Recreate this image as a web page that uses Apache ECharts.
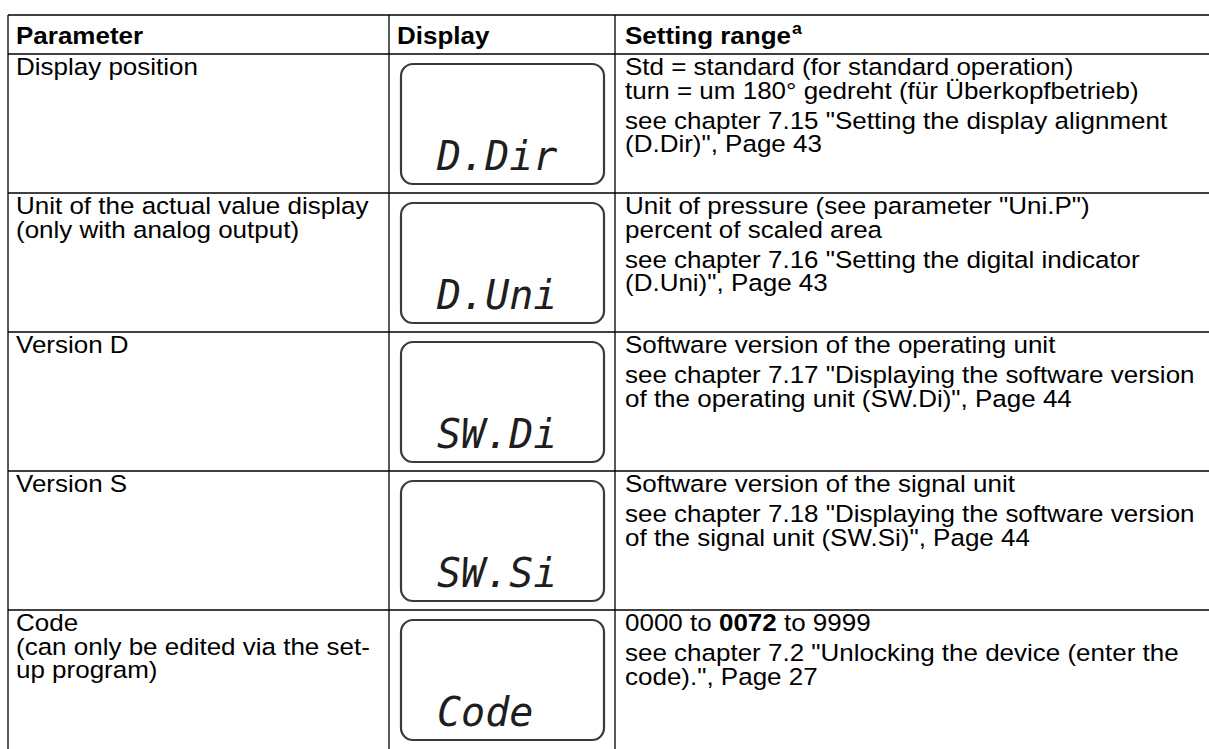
<!DOCTYPE html>
<html>
<head>
<meta charset="utf-8">
<script src="https://cdn.jsdelivr.net/npm/echarts@6/dist/echarts.min.js"></script>
<style>html,body{margin:0;padding:0;background:#fff}#c{width:1209px;height:749px}</style>
</head>
<body>
<div id="c"></div>
<script>
// ---------------- data ----------------
const headers = ['Parameter', 'Display', 'Setting range'];
const headerSup = 'a';

const parameters = [
  ['Display position'],
  ['Unit of the actual value display', '(only with analog output)'],
  ['Version D'],
  ['Version S'],
  ['Code', '(can only be edited via the set-', 'up program)']
];

const displayCodes = ['D.Dir', 'D.Uni', 'SW.Di', 'SW.Si', 'Code'];

const settingRanges = [
  [['Std = standard (for standard operation)', 'turn = um 180° gedreht (für Überkopfbetrieb)'],
   ['see chapter 7.15 "Setting the display alignment', '(D.Dir)", Page 43']],
  [['Unit of pressure (see parameter "Uni.P")', 'percent of scaled area'],
   ['see chapter 7.16 "Setting the digital indicator', '(D.Uni)", Page 43']],
  [['Software version of the operating unit'],
   ['see chapter 7.17 "Displaying the software version', 'of the operating unit (SW.Di)", Page 44']],
  [['Software version of the signal unit'],
   ['see chapter 7.18 "Displaying the software version', 'of the signal unit (SW.Si)", Page 44']],
  [['0000 to {b|0072} to 9999'],
   ['see chapter 7.2 "Unlocking the device (enter the', 'code).", Page 27']]
];

// ---------------- layout ----------------
const W = 1209;
const TABLE_LEFT = 8, COL2 = 389, COL3 = 615;
const HEAD_TOP = 15, HEAD_H = 39, ROW_H = 141;
const FONT = '"Liberation Sans", Arial, sans-serif';
const FS = 23.5;          // glyph height size
const SX = 1.106;         // horizontal stretch of the text
const PAD = 8;
const FIRST = 13, LINE = 23.5, PARA = 30;
const LW = 1.3;
const BOX_PAD_X = 12, BOX_PAD_Y = 10, BOX_W = 203, BOX_H = 120;

const chart = echarts.init(document.getElementById('c'), null, {renderer: 'svg'});

function lineEl(x1, y1, x2, y2) {
  return {type: 'line', shape: {x1, y1, x2, y2}, style: {stroke: '#000', lineWidth: LW}};
}
function textEl(x, y, text, extra) {
  return {type: 'text', x, y, scaleX: SX, scaleY: 1, style: Object.assign({
    text, fill: '#000', fontFamily: FONT, fontSize: FS, lineHeight: 21,
    verticalAlign: 'middle', align: 'left',
    rich: {b: {fontFamily: FONT, fontSize: FS, fontWeight: 'bold', fill: '#000', lineHeight: 21}}
  }, extra || {})};
}

// width of the bold third header, to place its superscript right after it
const headWidth = new echarts.graphic.Text({style: {
  text: headers[2], fontFamily: FONT, fontSize: FS, fontWeight: 'bold'
}}).getBoundingRect().width;

function colXs(api, r) {
  return {
    x0: api.coord([0, r])[0],
    x2: api.coord([COL2 - TABLE_LEFT, r])[0],
    x3: api.coord([COL3 - TABLE_LEFT, r])[0],
    xe: api.coord([W - TABLE_LEFT, r])[0]
  };
}

function renderHeader(params, api) {
  const c = api.coord([0, 0]);
  const band = api.size([0, 1])[1];
  const top = c[1] - band / 2;
  const cx = colXs(api, 0);
  const mid = top + band / 2 + 1;
  const hx3 = cx.x3 + PAD + 2;
  const children = [
    lineEl(cx.x0, top, cx.xe, top),
    lineEl(cx.x0, top, cx.x0, top + band),
    lineEl(cx.x2, top, cx.x2, top + band),
    lineEl(cx.x3, top, cx.x3, top + band),
    textEl(cx.x0 + PAD, mid, headers[0], {fontWeight: 'bold'}),
    textEl(cx.x2 + PAD, mid, headers[1], {fontWeight: 'bold'}),
    textEl(hx3, mid, headers[2], {fontWeight: 'bold'}),
    textEl(hx3 + headWidth * SX + 1, mid - 15, headerSup,
      {fontWeight: 'bold', fontSize: 16, lineHeight: 16, verticalAlign: 'top'})
  ];
  return {type: 'group', children};
}

function renderRow(params, api) {
  const r = api.value(0);
  const c = api.coord([0, r]);
  const band = api.size([0, 1])[1];
  const top = c[1] - band / 2;
  const cx = colXs(api, r);
  const children = [
    lineEl(cx.x0, top, cx.xe, top),
    lineEl(cx.x0, top, cx.x0, top + band),
    lineEl(cx.x2, top, cx.x2, top + band),
    lineEl(cx.x3, top, cx.x3, top + band)
  ];
  parameters[r].forEach((t, i) => {
    children.push(textEl(cx.x0 + PAD, top + FIRST + i * LINE, t));
  });
  let y = top + FIRST;
  settingRanges[r].forEach((para, pi) => {
    if (pi > 0) y += PARA - LINE;
    para.forEach((t) => {
      children.push(textEl(cx.x3 + PAD + 2, y, t));
      y += LINE;
    });
  });
  const bx = cx.x2 + BOX_PAD_X, by = top + BOX_PAD_Y;
  children.push({type: 'rect', shape: {x: bx, y: by, width: BOX_W, height: BOX_H, r: 12},
    style: {fill: '#fff', stroke: '#3a3a3a', lineWidth: 2.2}});
  children.push({type: 'text', x: bx + 36, y: by + BOX_H - 28, style: {
    text: displayCodes[r], fill: '#1e1e1e', fontFamily: '"DejaVu Sans Mono", monospace',
    fontStyle: 'italic', fontSize: 40, verticalAlign: 'middle', align: 'left'
  }});
  return {type: 'group', children};
}

const option = {
  animation: false,
  backgroundColor: '#fff',
  grid: [
    {left: TABLE_LEFT, width: W - TABLE_LEFT, top: HEAD_TOP, height: HEAD_H},
    {left: TABLE_LEFT, width: W - TABLE_LEFT, top: HEAD_TOP + HEAD_H, height: ROW_H * parameters.length}
  ],
  xAxis: [0, 1].map(i => ({type: 'value', gridIndex: i, min: 0, max: W - TABLE_LEFT, show: false})),
  yAxis: [
    {type: 'category', gridIndex: 0, data: ['header'], show: false},
    {type: 'category', gridIndex: 1, data: parameters.map(p => p[0]), inverse: true, show: false}
  ],
  series: [
    {type: 'custom', xAxisIndex: 0, yAxisIndex: 0, renderItem: renderHeader, data: [[0]], silent: true},
    {type: 'custom', xAxisIndex: 1, yAxisIndex: 1, renderItem: renderRow,
     data: parameters.map((p, i) => [i]), silent: true}
  ]
};
chart.setOption(option);
</script>
</body>
</html>
